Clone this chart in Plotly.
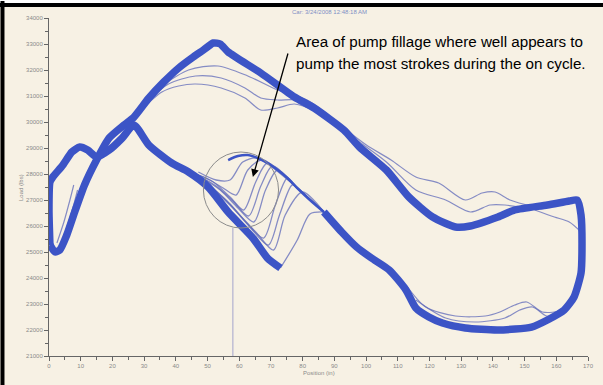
import plotly.graph_objects as go

# ---- main card loop (position in, load lbs) ----
up_x = [0.3, 1.9, 3.4, 5.6, 8.1, 11.2, 15.0, 19.0, 23.7, 26.8, 31.5, 36.2, 40.9, 45.5, 48.7, 51.8, 54.0, 56.5,
        66.8, 77.4, 83.6, 93.0, 97.9, 106.4, 113.5, 121.0, 128.2, 132.9, 141.6, 146.9, 157.2, 164.1, 166.6]
up_y = [25269, 25000, 25077, 25654, 26538, 27577, 28538, 29385, 29885, 30192, 30923, 31538, 32077, 32500, 32769,
        33038, 33000, 32692, 31885, 30962, 30538, 29692, 29038, 28154, 27115, 26346, 25962, 26000, 26346, 26615,
        26808, 26962, 27000]
down_x = [167.8, 168.1, 167.8, 165.6, 162.5, 157.2, 152.2, 141.6, 131.3, 124.1, 119.8, 115.7, 112.6, 107.3, 101.7,
          97.0, 92.3, 86.7]
down_y = [26423, 25077, 24192, 23269, 22769, 22385, 22115, 22000, 22077, 22269, 22500, 22846, 23538, 24308, 24769,
          25192, 25769, 26538]
low_x = [73.0, 68.9, 64.3, 56.5, 50.2, 44.0, 38.7, 31.5, 26.8, 23.1, 19.0, 15.0, 12.2, 9.7, 7.2, 4.4, 1.2, 0.3, 0.0, 0.3]
low_y = [24385, 24769, 25538, 26538, 27500, 28077, 28423, 29115, 29885, 29385, 28923, 28654, 28923, 29038, 28846,
         28346, 27885, 27692, 26615, 25269]
env_x = [86.7, 82.3, 78.3, 75.2, 72.1, 68.9, 65.8, 62.7, 59.6, 56.5]
env_y = [26538, 27000, 27462, 27846, 28154, 28423, 28615, 28731, 28692, 28538]

# ---- fillage strokes ----
fill_x = [
    [86.7, 82.3, 78.3, 73.0],
    [86.7, 79.9, 74.5, 70.8, 65.2, 58.0, 50.8],
    [86.7, 78.9, 76.7, 72.7, 69.2, 63.6, 57.1, 49.6],
    [86.7, 78.3, 75.2, 71.4, 67.7, 62.1, 55.8, 48.7],
    [86.7, 78.3, 72.1, 68.3, 64.6, 59.6, 54.0, 47.1],
    [86.7, 78.3, 70.5, 66.8, 63.0, 58.3, 52.7, 46.2],
    [86.7, 78.3, 68.9, 65.2, 61.4, 57.1, 51.8, 45.5],
    [86.7, 78.3, 67.4, 62.7, 59.0, 54.9, 49.6, 44.0],
    [86.7, 78.3, 65.8, 61.1, 57.1, 52.7, 47.1],
]
fill_y = [
    [26538, 26462, 25462, 24385],
    [26538, 27308, 26423, 25077, 25769, 26692, 27538],
    [26538, 27385, 27577, 26423, 25269, 25923, 26846, 27654],
    [26538, 27462, 27846, 26808, 25538, 26154, 27000, 27769],
    [26538, 27462, 28154, 27385, 26154, 26692, 27385, 27923],
    [26538, 27462, 28308, 27538, 26385, 26923, 27538, 28000],
    [26538, 27462, 28423, 27692, 26615, 27115, 27692, 28038],
    [26538, 27462, 28538, 28154, 27192, 27462, 27846, 28077],
    [26538, 27462, 28615, 28462, 27769, 27769, 28077],
]

# ---- other lighter strokes ----
var_x = [
    [28.4, 35.6, 40.9, 46.2, 54.3, 61.8, 66.8, 72.1, 77.4, 84.5, 93.0],
    [31.5, 37.7, 46.2, 54.3, 61.8, 66.8, 72.1, 78.3, 84.5, 93.0],
    [34.6, 44.0, 53.3, 62.7, 72.1, 81.4, 90.8],
    [93.0, 100.1, 107.9, 115.7, 122.9, 131.3, 136.6, 140.7, 145.4, 153.2],
    [97.0, 106.4, 115.7, 125.1, 132.9, 139.1, 143.8, 150.0],
    [153.2, 159.4, 164.1, 167.8],
    [112.6, 118.8, 128.2, 137.6, 142.2, 146.9, 150.7, 155.6, 161.9, 165.6],
    [115.7, 125.1, 134.4, 143.8, 148.5, 152.5, 156.9, 161.0],
    [2.5, 4.7, 6.6, 7.8],
    [4.1, 5.9, 7.8, 9.0],
]
var_y = [
    [30385, 31154, 31385, 31462, 31308, 30923, 30462, 30538, 30692, 30385, 29692],
    [30846, 31462, 31769, 31692, 31308, 30923, 30846, 30846, 30462, 29692],
    [31308, 32000, 32154, 31769, 31231, 30846, 30000],
    [29769, 29115, 28538, 27885, 27654, 27000, 27269, 27308, 27000, 26731],
    [29308, 28462, 27385, 27000, 26538, 26808, 26808, 26692],
    [26615, 26346, 26154, 25769],
    [23731, 22885, 22538, 22538, 22692, 22962, 23077, 22692, 22769, 23269],
    [23154, 22462, 22308, 22462, 22769, 22885, 22538, 22577],
    [25346, 26154, 27000, 27577],
    [25269, 26038, 26808, 27385],
]

x_ticks = list(range(0, 171, 10))
y_ticks = list(range(21000, 34001, 1000))

BLUE = "rgb(60,84,198)"
THIN = "rgba(95,105,185,0.75)"
BG = "#f7f1e4"

fig = go.Figure()

for xs, ys in zip(var_x, var_y):
    fig.add_trace(go.Scatter(x=xs, y=ys, mode="lines", line=dict(color=THIN, width=1.2, shape="spline", smoothing=0.8),
                             hoverinfo="skip", showlegend=False))
for xs, ys in zip(fill_x, fill_y):
    fig.add_trace(go.Scatter(x=xs, y=ys, mode="lines", line=dict(color=THIN, width=1.3, shape="spline", smoothing=0.8),
                             hoverinfo="skip", showlegend=False))

fig.add_trace(go.Scatter(x=up_x + down_x, y=up_y + down_y, mode="lines",
                         line=dict(color=BLUE, width=7.5, shape="spline", smoothing=0.6),
                         hoverinfo="skip", showlegend=False))
fig.add_trace(go.Scatter(x=low_x, y=low_y, mode="lines",
                         line=dict(color=BLUE, width=7.5, shape="spline", smoothing=0.6),
                         hoverinfo="skip", showlegend=False))
fig.add_trace(go.Scatter(x=env_x, y=env_y, mode="lines",
                         line=dict(color=BLUE, width=2.5, shape="spline", smoothing=0.8),
                         hoverinfo="skip", showlegend=False))

axis_common = dict(showgrid=False, zeroline=False, showline=True, linecolor="#666", linewidth=1,
                   ticks="outside", ticklen=4, tickcolor="#666", tickfont=dict(size=6, color="#8a8a8a",
                   family="Liberation Sans"))

fig.update_xaxes(range=[0, 170], tickvals=x_ticks, ticktext=[str(v) for v in x_ticks],
                 minor=dict(dtick=5, ticks="outside", ticklen=3, tickcolor="#666"), **axis_common)
fig.update_yaxes(range=[21000, 34000], tickvals=y_ticks, ticktext=[str(v) for v in y_ticks],
                 minor=dict(dtick=500, ticks="outside", ticklen=3, tickcolor="#666"), **axis_common)

shapes = [
    dict(type="circle", xref="x", yref="y", x0=48.7, x1=72.4, y0=25923, y1=28846,
         line=dict(color="#8c8c8c", width=1)),
    dict(type="line", xref="x", yref="y", x0=58.0, x1=58.0, y0=21000, y1=25923,
         line=dict(color="#a4a4cc", width=1)),
    dict(type="rect", xref="paper", yref="paper", x0=-0.1, x1=1.1, y0=1.0444, y1=1.07,
         fillcolor="white", line=dict(width=0), layer="above"),
    dict(type="line", xref="paper", yref="paper", x0=-0.1, x1=1.1, y0=1.0385, y1=1.0385,
         line=dict(color="black", width=4)),
    dict(type="line", xref="paper", yref="paper", x0=-0.0863, x1=-0.0863, y0=-0.1, y1=1.05,
         line=dict(color="black", width=4)),
]

text_font = dict(family="Liberation Sans, Arial, sans-serif", size=15.2, color="black")
annotations = [
    dict(x=64.3, y=27885, ax=75.5, ay=32692, xref="x", yref="y", axref="x", ayref="y", text="",
         showarrow=True, arrowhead=2, arrowsize=1.2, arrowwidth=1.3, arrowcolor="black"),
    dict(x=0.455, y=0.9305, xref="paper", yref="paper", xanchor="left", yanchor="middle", showarrow=False,
         text="Area of pump fillage where well appears to", font=text_font),
    dict(x=0.455, y=0.8654, xref="paper", yref="paper", xanchor="left", yanchor="middle", showarrow=False,
         text="pump the most strokes during the on cycle.", font=text_font),
    dict(x=0.521, y=1.0178, xref="paper", yref="paper", xanchor="center", yanchor="middle", showarrow=False,
         text="Car: 3/24/2008 12:48:18 AM", font=dict(size=6, color="#8090c4", family="Liberation Sans")),
    dict(x=0.5, y=-0.05, xref="paper", yref="paper", xanchor="center", yanchor="middle", showarrow=False,
         text="Position (in)", font=dict(size=6, color="#8a8a8a", family="Liberation Sans")),
    dict(x=-0.052, y=0.5, xref="paper", yref="paper", xanchor="center", yanchor="middle", showarrow=False,
         text="Load (lbs)", textangle=-90, font=dict(size=6, color="#8a8a8a", family="Liberation Sans")),
]

fig.update_layout(width=603, height=385, margin=dict(l=49, r=9, t=18, b=29),
                  paper_bgcolor=BG, plot_bgcolor=BG, shapes=shapes, annotations=annotations,
                  showlegend=False)

fig.write_html("out.html", config={"displayModeBar": False},
               post_script="document.body.style.margin='0';")
